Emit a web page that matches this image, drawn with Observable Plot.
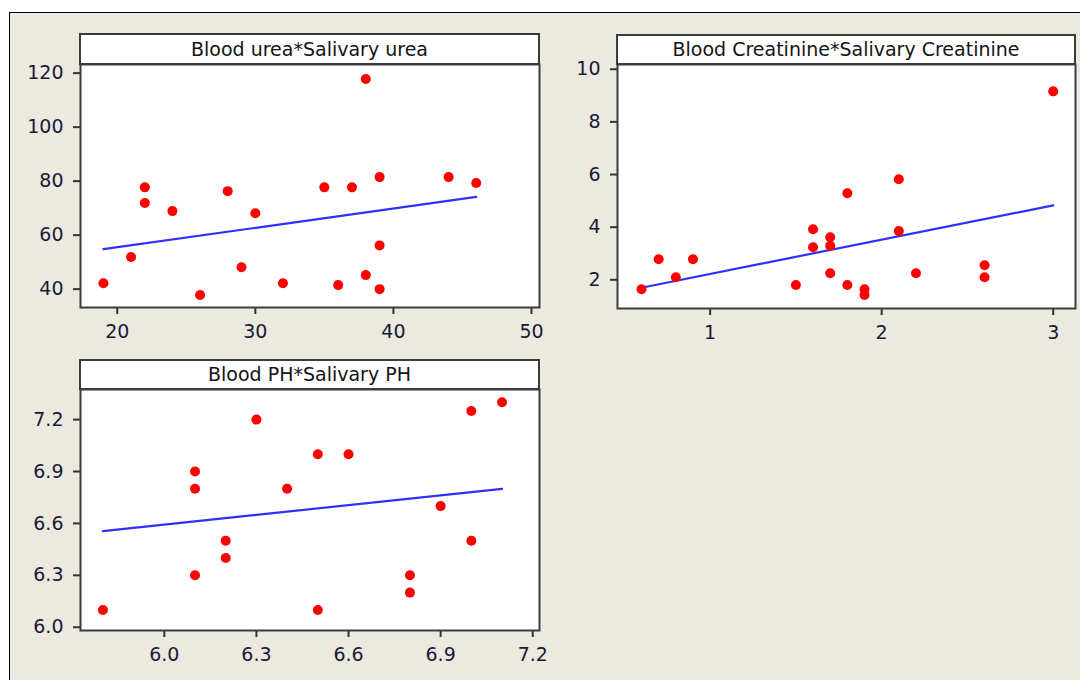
<!DOCTYPE html>
<html><head><meta charset="utf-8">
<script src="https://cdn.jsdelivr.net/npm/d3@7"></script>
<script src="https://cdn.jsdelivr.net/npm/@observablehq/plot@0.6"></script>
<style>
html,body{margin:0;padding:0;background:#fff;width:1080px;height:680px;overflow:hidden;font-family:"DejaVu Sans",sans-serif;}
#frame{position:absolute;left:9px;top:12px;width:1100px;height:700px;background:#ECE9DE;border-left:1.5px solid #000;border-top:1.5px solid #000;}
.strip{position:absolute;box-sizing:border-box;background:#fff;border:2px solid #3c3c3c;text-align:center;font-size:19px;color:#141414;white-space:nowrap;}
.panel{position:absolute;}
.panel svg{overflow:visible;}
</style></head><body>
<div id="frame"></div>
<script>
// Panel titles
const titles = ["Blood urea*Salivary urea", "Blood Creatinine*Salivary Creatinine", "Blood PH*Salivary PH"];

// Blood urea * Salivary urea
const salivaryUrea = [19,21,22,22,24,26,28,29,30,32,35,36,37,38,38,39,39,39,44,46];
const bloodUrea    = [42.2,51.9,77.7,71.9,68.9,37.8,76.3,48.1,68.1,42.2,77.7,41.5,77.7,117.8,45.2,81.5,56.2,40,81.5,79.3];
const fitUreaX = [19, 46];
const fitUreaY = [54.8, 74.2];
const ureaXTicks = [20,30,40,50];
const ureaYTicks = [40,60,80,100,120];

// Blood Creatinine * Salivary Creatinine
const salivaryCreat = [0.6,0.7,0.8,0.9,1.5,1.6,1.6,1.7,1.7,1.7,1.8,1.8,1.9,1.9,2.1,2.1,2.2,2.6,2.6,3.0];
const bloodCreat    = [1.64,2.78,2.1,2.78,1.8,3.92,3.24,3.62,3.29,2.25,5.29,1.8,1.64,1.42,5.82,3.85,2.25,2.55,2.1,9.16];
const fitCreatX = [0.6, 3.0];
const fitCreatY = [1.7, 4.83];
const creatXTicks = [1,2,3];
const creatYTicks = [2,4,6,8,10];

// Blood PH * Salivary PH
const salivaryPH = [5.8,6.1,6.1,6.1,6.2,6.2,6.3,6.4,6.5,6.5,6.6,6.8,6.8,6.9,7.0,7.0,7.1];
const bloodPH    = [6.1,6.9,6.8,6.3,6.5,6.4,7.2,6.8,7.0,6.1,7.0,6.3,6.2,6.7,7.25,6.5,7.3];
const fitPHX = [5.8, 7.1];
const fitPHY = [6.555, 6.80];
const phXTicks = [6.0,6.3,6.6,6.9,7.2];
const phYTicks = [6.0,6.3,6.6,6.9,7.2];

function makePanel(o) {
  const pts = o.xs.map((x, i) => ({x, y: o.ys[i]}));
  const fit = o.fx.map((x, i) => ({x, y: o.fy[i]}));
  const chart = Plot.plot({
    width: o.width, height: o.height,
    marginLeft: o.mLeft, marginRight: o.mRight, marginTop: 10, marginBottom: o.mBottom,
    style: {background: "transparent", fontFamily: "DejaVu Sans", fontSize: "19px", overflow: "visible"},
    x: {domain: o.xDomain},
    y: {domain: o.yDomain},
    marks: [
      Plot.frame({fill: "white", stroke: "none"}),
      Plot.axisX({ticks: o.xTicks, tickFormat: o.fmt, tickSize: 7, tickPadding: 10, label: null,
                  stroke: "#333", strokeWidth: 2, fill: "#1a1a38"}),
      Plot.axisY({ticks: o.yTicks, tickFormat: o.fmt, tickSize: 7, tickPadding: 10, label: null,
                  stroke: "#333", strokeWidth: 2, fill: "#1a1a38"}),
      Plot.line(fit, {x: "x", y: "y", stroke: "#2f2fff", strokeWidth: 2.2}),
      Plot.dot(pts, {x: "x", y: "y", r: 5, fill: "#ff0000", stroke: "none"}),
      Plot.frame({stroke: "#3c3c3c", strokeWidth: 2})
    ]
  });
  const wrap = document.createElement("div");
  wrap.className = "panel";
  wrap.style.left = o.left + "px";
  wrap.style.top = o.top + "px";
  wrap.appendChild(chart);
  document.body.appendChild(wrap);

  const s = document.createElement("div");
  s.className = "strip";
  s.textContent = o.title;
  s.style.left = o.strip[0] + "px";
  s.style.top = o.strip[1] + "px";
  s.style.width = o.strip[2] + "px";
  s.style.height = o.strip[3] + "px";
  s.style.lineHeight = (o.strip[3] - 4) + "px";
  document.body.appendChild(s);
}

makePanel({
  title: titles[0], xs: salivaryUrea, ys: bloodUrea, fx: fitUreaX, fy: fitUreaY,
  xDomain: [17.34, 50.58], yDomain: [33.2, 123.2], xTicks: ureaXTicks, yTicks: ureaYTicks, fmt: d3.format("d"),
  left: 0, top: 54, width: 549, height: 298, mLeft: 80, mRight: 10, mBottom: 45,
  strip: [79, 33, 461, 32]
});
makePanel({
  title: titles[1], xs: salivaryCreat, ys: bloodCreat, fx: fitCreatX, fy: fitCreatY,
  xDomain: [0.46, 3.13], yDomain: [0.91, 10.18], xTicks: creatXTicks, yTicks: creatYTicks, fmt: d3.format("d"),
  left: 537, top: 54, width: 543, height: 299, mLeft: 80, mRight: 5, mBottom: 45,
  strip: [616, 34, 460, 31]
});
makePanel({
  title: titles[2], xs: salivaryPH, ys: bloodPH, fx: fitPHX, fy: fitPHY,
  xDomain: [5.727, 7.222], yDomain: [5.981, 7.374], xTicks: phXTicks, yTicks: phYTicks, fmt: d3.format(".1f"),
  left: 0, top: 379, width: 549, height: 296, mLeft: 80, mRight: 10, mBottom: 45,
  strip: [79, 359, 461, 31]
});
</script>
</body></html>
